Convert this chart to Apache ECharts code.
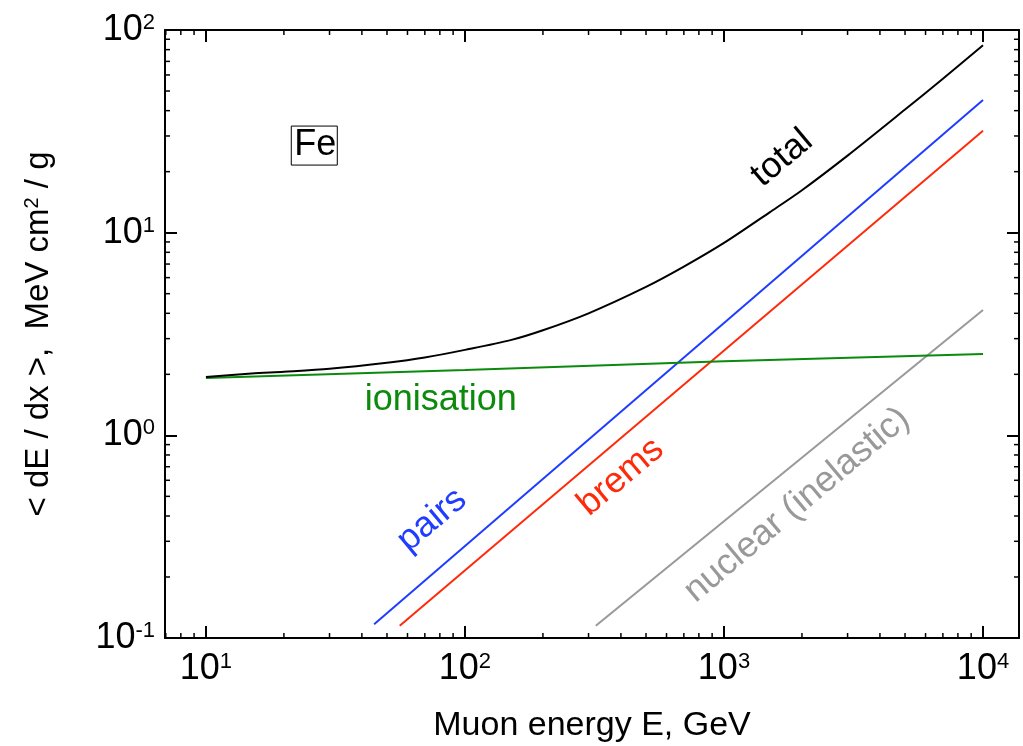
<!DOCTYPE html>
<html>
<head>
<meta charset="utf-8">
<script src="https://cdn.jsdelivr.net/npm/echarts@6/dist/echarts.min.js"></script>
<style>
html,body{margin:0;padding:0;background:#fff;}
#chart{width:1023px;height:746px;}
</style>
</head>
<body>
<div id="chart"></div>
<script>
// ---- data ----
const xRange = [6.95, 13770];
const yRange = [0.1, 100];

const totalE = [10, 15, 20, 30, 50, 70, 100, 150, 200, 300, 500, 700, 1000, 1500, 2000, 3000, 5000, 7000, 10000];
const totalV = [1.94, 2.02, 2.06, 2.13, 2.28, 2.42, 2.64, 2.95, 3.3, 4.0, 5.4, 6.8, 8.9, 12.6, 16.2, 24.0, 40.5, 57.5, 84];

const ionE = [10, 100, 1000, 10000];
const ionV = [1.92, 2.10, 2.32, 2.52];

const pairsE = [44.6, 10000];
const pairsV = [0.117, 45.2];

const bremsE = [56, 10000];
const bremsV = [0.115, 31.8];

const nuclE = [320, 10000];
const nuclV = [0.115, 4.15];

const xMinorTicks = [7, 8, 9, 20, 30, 40, 50, 60, 70, 80, 90, 200, 300, 400, 500, 600, 700, 800, 900,
  2000, 3000, 4000, 5000, 6000, 7000, 8000, 9000];
const yMinorTicks = [0.2, 0.3, 0.4, 0.5, 0.6, 0.7, 0.8, 0.9, 2, 3, 4, 5, 6, 7, 8, 9,
  20, 30, 40, 50, 60, 70, 80, 90];

// annotation anchors (data coordinates)
const labelTotal = [1675, 23.3];
const labelPairs = [74.6, 0.382];
const labelBrems = [400, 0.623];
const labelNucl = [1915, 0.453];
const labelIon = [80.7, 1.5];
const labelFe = [26.2, 26.9];

const xTitle = 'Muon energy E, GeV';
const yTitle = '< dE / dx >,  MeV cm{s|2} / g';

// ---- chart ----
const FONT = 'Liberation Sans, Arial, sans-serif';
function zip(a, b) { return a.map((v, i) => [v, b[i]]); }
function powLabel(v) {
  const l = Math.log10(v);
  const e = Math.round(l);
  if (Math.abs(l - e) > 1e-6) return '';
  return '{b|10}{s|' + e + '}';
}
const labelRich = {
  b: { fontSize: 36, fontFamily: FONT, color: '#000' },
  s: { fontSize: 22, fontFamily: FONT, color: '#000', verticalAlign: 'top' }
};
function axisCommon(extra) {
  return Object.assign({
    type: 'log',
    logBase: 10,
    axisLine: { show: true, onZero: false, lineStyle: { color: '#000', width: 2 } },
    axisTick: { show: true, inside: true, length: 12, lineStyle: { color: '#000', width: 2 } },
    splitLine: { show: false },
    minorTick: { show: false },
    minorSplitLine: { show: false }
  }, extra);
}
function annot(coord, text, color, rotate, extra) {
  return {
    coord: coord,
    symbol: 'circle',
    symbolSize: 1,
    itemStyle: { color: 'rgba(0,0,0,0)' },
    label: Object.assign({
      show: true, position: 'inside', formatter: text, color: color,
      fontSize: 36, fontFamily: FONT, rotate: rotate
    }, extra || {})
  };
}
function lineSeries(name, data, color, width, marks) {
  return {
    name: name, type: 'line', data: data, symbol: 'none', smooth: false,
    xAxisIndex: 0, yAxisIndex: 0, z: 3,
    lineStyle: { color: color, width: width },
    animation: false,
    markPoint: marks ? { animation: false, silent: true, data: marks } : undefined
  };
}

const chart = echarts.init(document.getElementById('chart'), null, { renderer: 'canvas' });
const option = {
  animation: false,
  backgroundColor: '#fff',
  grid: { left: 165, top: 30, right: 4, bottom: 108, containLabel: false, outerBoundsMode: 'none' },
  xAxis: [
    axisCommon({
      position: 'bottom', min: xRange[0], max: xRange[1],
      name: xTitle, nameLocation: 'middle', nameGap: 71,
      nameTextStyle: { fontSize: 34, fontFamily: FONT, color: '#000' },
      axisLabel: { show: true, margin: 13, formatter: powLabel, rich: labelRich,
        showMinLabel: false, showMaxLabel: false }
    }),
    axisCommon({ position: 'top', min: xRange[0], max: xRange[1], axisLabel: { show: false } })
  ],
  yAxis: [
    axisCommon({
      position: 'left', min: yRange[0], max: yRange[1],
      name: yTitle, nameLocation: 'middle', nameGap: 110, nameRotate: 90,
      nameTextStyle: { fontSize: 33, fontFamily: FONT, color: '#000',
        rich: { s: { fontSize: 20, fontFamily: FONT, color: '#000', verticalAlign: 'top' } } },
      axisLabel: { show: true, margin: 10, formatter: powLabel, rich: labelRich }
    }),
    axisCommon({ position: 'right', min: yRange[0], max: yRange[1], axisLabel: { show: false } })
  ],
  series: [
    lineSeries('nuclear', zip(nuclE, nuclV), '#999999', 2,
      [annot(labelNucl, 'nuclear (inelastic)', '#999999', 40)]),
    lineSeries('brems', zip(bremsE, bremsV), '#ff2a0a', 2,
      [annot(labelBrems, 'brems', '#ff2a0a', 40)]),
    lineSeries('pairs', zip(pairsE, pairsV), '#1f3dff', 2,
      [annot(labelPairs, 'pairs', '#1f3dff', 40)]),
    lineSeries('ionisation', zip(ionE, ionV), '#0b8a0b', 2,
      [annot(labelIon, 'ionisation', '#0b8a0b', 0)]),
    Object.assign(lineSeries('total', zip(totalE, totalV), '#000000', 2,
      [annot(labelTotal, 'total', '#000000', 40),
       annot(labelFe, 'Fe', '#000000', 0, { borderColor: '#000', borderWidth: 1, padding: [3, 1, 0, 3] })]),
      { smooth: 0.3, z: 4 }),
    {
      type: 'custom', xAxisIndex: 0, yAxisIndex: 0, clip: false, silent: true, z: 5,
      data: xMinorTicks.map(v => [v, yRange[0]]),
      renderItem: function (params, api) {
        const v = api.value(0);
        const b = api.coord([v, yRange[0]]);
        const t = api.coord([v, yRange[1]]);
        const st = { stroke: '#000', lineWidth: 1.5 };
        return { type: 'group', children: [
          { type: 'line', shape: { x1: b[0], y1: b[1], x2: b[0], y2: b[1] - 5 }, style: st },
          { type: 'line', shape: { x1: t[0], y1: t[1], x2: t[0], y2: t[1] + 5 }, style: st }
        ] };
      }
    },
    {
      type: 'custom', xAxisIndex: 0, yAxisIndex: 0, clip: false, silent: true, z: 5,
      data: yMinorTicks.map(v => [xRange[0], v]),
      renderItem: function (params, api) {
        const v = api.value(1);
        const l = api.coord([xRange[0], v]);
        const r = api.coord([xRange[1], v]);
        const st = { stroke: '#000', lineWidth: 1.5 };
        return { type: 'group', children: [
          { type: 'line', shape: { x1: l[0], y1: l[1], x2: l[0] + 5, y2: l[1] }, style: st },
          { type: 'line', shape: { x1: r[0], y1: r[1], x2: r[0] - 5, y2: r[1] }, style: st }
        ] };
      }
    }
  ]
};
chart.setOption(option);
</script>
</body>
</html>
